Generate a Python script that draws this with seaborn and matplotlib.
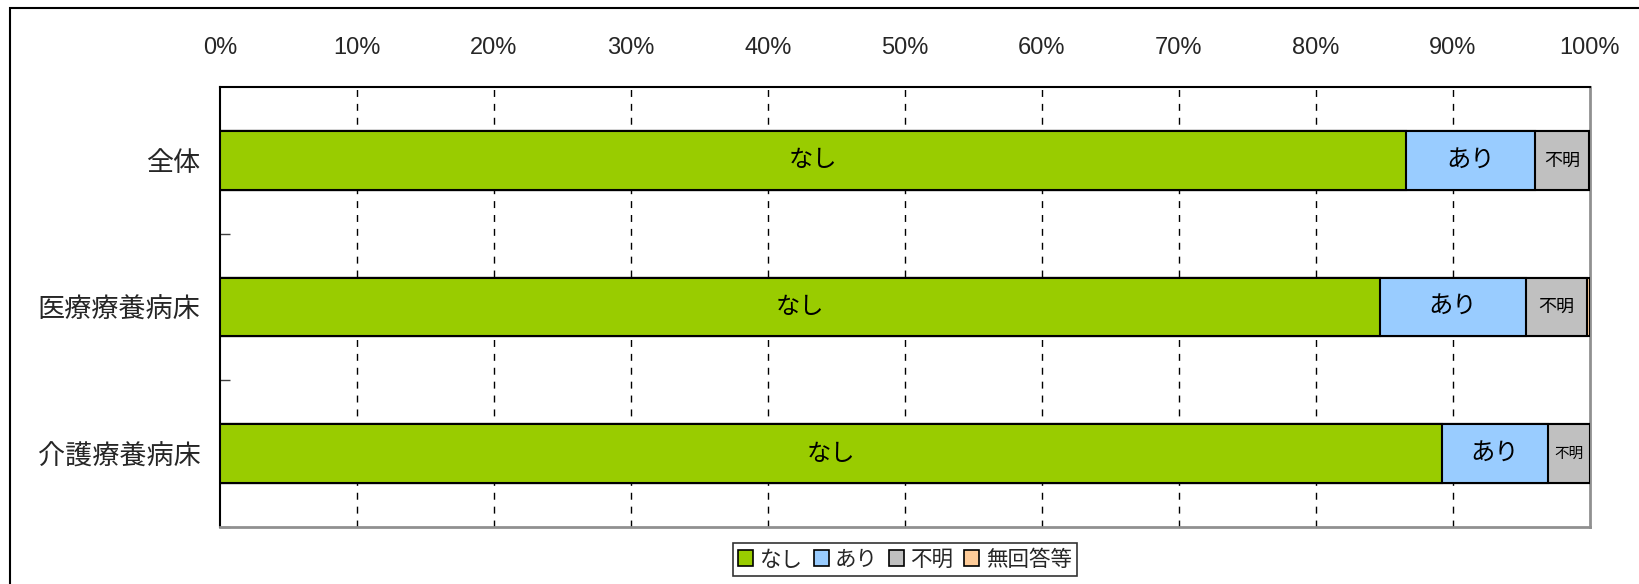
import matplotlib
matplotlib.use("Agg")
import matplotlib.pyplot as plt
from matplotlib.patches import Patch, Rectangle
from matplotlib.ticker import FixedLocator
import numpy as np
import pandas as pd
import seaborn as sns

# Survey responses by facility type (percent of respondents)
categories = ["全体", "医療療養病床", "介護療養病床"]
series_names = ["なし", "あり", "不明", "無回答等"]
nashi = [86.6, 84.7, 89.2]
ari = [9.4, 10.6, 7.7]
fumei = [3.9, 4.5, 3.1]
mukaito = [0.1, 0.2, 0.0]
tick_labels = ["0%", "10%", "20%", "30%", "40%", "50%", "60%", "70%", "80%", "90%", "100%"]

colors = ["#99CC00", "#99CCFF", "#C0C0C0", "#FFCC99"]
# in-bar label sizes per row for the small 不明 segment
fumei_sizes = [13, 13, 10.5]

sns.set_theme(style="white")
jp = ["Noto Sans CJK JP", "DejaVu Sans"]
narrow = ["Liberation Sans Narrow", "Liberation Sans", "DejaVu Sans"]
plt.rcParams["font.family"] = jp

values = np.array([nashi, ari, fumei, mukaito])
cum = np.cumsum(values, axis=0)

fig = plt.figure(figsize=(16.4, 5.84), dpi=100)
ax = fig.add_axes([220 / 1640, 1 - 527 / 584, 1370 / 1640, 440 / 584])

# stacked bars: draw cumulative totals from the outermost layer inward
for i in range(len(series_names) - 1, -1, -1):
    df = pd.DataFrame({"cat": categories, "val": cum[i]})
    sns.barplot(data=df, x="val", y="cat", orient="h", color=colors[i],
                saturation=1, width=0.4, edgecolor="black", linewidth=1.5,
                ax=ax, zorder=3)

# segment labels
for r in range(len(categories)):
    starts = np.concatenate([[0], cum[:-1, r]])
    for i, name in enumerate(series_names[:3]):
        x = starts[i] + values[i, r] / 2
        size = 17.5 if i < 2 else fumei_sizes[r]
        ax.text(x, r, name, ha="center", va="center", fontsize=size,
                family=jp, color="black", zorder=5)

ax.set_xlim(0, 100)
ax.set_ylim(2.5, -0.5)
ax.set_xlabel("")
ax.set_ylabel("")

ax.xaxis.tick_top()
ax.set_xticks(np.arange(0, 101, 10))
ax.set_xticklabels(tick_labels, family=narrow, fontsize=17)
ax.tick_params(axis="x", length=0, pad=20)
ax.tick_params(axis="y", which="major", length=0, pad=14, labelsize=19.5)
for lab in ax.get_yticklabels():
    lab.set_family(jp)

ax.yaxis.set_minor_locator(FixedLocator([0.5, 1.5, 2.5]))
ax.tick_params(axis="y", which="minor", direction="in", length=7, width=1, color="#404040", left=True)

# dashed vertical grid
for xv in range(10, 100, 10):
    ax.axvline(xv, color="black", linestyle=(0, (5, 5)), linewidth=1, zorder=1)

for side in ["left", "top"]:
    ax.spines[side].set_color("black")
    ax.spines[side].set_linewidth(1.5)
for side in ["right", "bottom"]:
    ax.spines[side].set_color("#909090")
    ax.spines[side].set_linewidth(2)

handles = [Patch(facecolor=c, edgecolor="black", linewidth=1.2, label=n)
           for c, n in zip(colors, series_names)]
leg = fig.legend(handles=handles, loc="center", ncol=4,
                 bbox_to_anchor=(905 / 1640, 1 - 559.5 / 584),
                 frameon=True, fancybox=False,
                 handlelength=0.7, handleheight=0.7, handletextpad=0.3,
                 columnspacing=0.5, borderpad=0.25, prop={"family": jp, "size": 15.5})
leg.get_frame().set_edgecolor("black")
leg.get_frame().set_linewidth(1.2)

# outer frame of the chart area
fig.add_artist(Rectangle((10 / 1640, -0.2), 1.2, 1.2 - 8 / 584, transform=fig.transFigure,
                         fill=False, edgecolor="black", linewidth=1.5))

fig.savefig("out.png", dpi=100)
